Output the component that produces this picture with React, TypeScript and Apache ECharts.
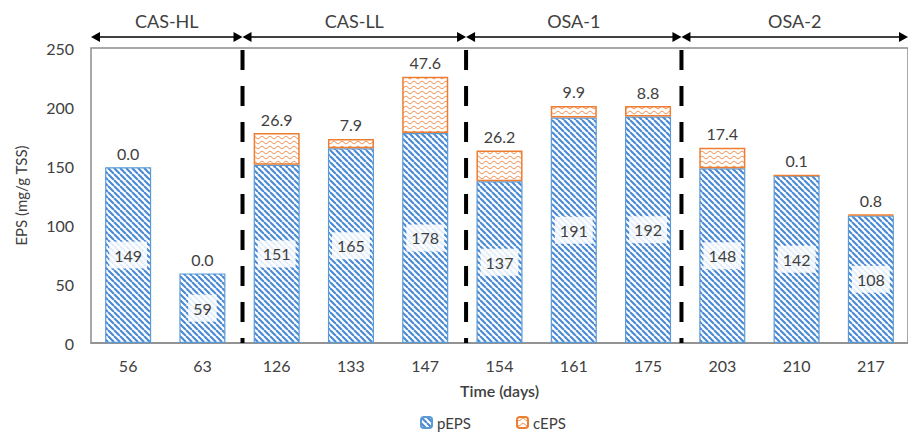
import React, { useEffect, useRef } from "react";
import * as echarts from "echarts";

const categories = ["56", "63", "126", "133", "147", "154", "161", "175", "203", "210", "217"];
const pEPS = [149, 59, 151, 165, 178, 137, 191, 192, 148, 142, 108];
const cEPS = [0.0, 0.0, 26.9, 7.9, 47.6, 26.2, 9.9, 8.8, 17.4, 0.1, 0.8];
const phaseNames = ["CAS-HL", "CAS-LL", "OSA-1", "OSA-2"];
// phase boundaries on the category index scale (0 = left edge, 11 = right edge)
const phaseBounds = [0, 2.04, 5.05, 7.95, 11];

const FONT = "Lato, 'Noto Sans', sans-serif";

function stripePattern() {
  const s = 6;
  const c = document.createElement("canvas");
  c.width = s;
  c.height = s;
  const g = c.getContext("2d")!;
  g.fillStyle = "#ffffff";
  g.fillRect(0, 0, s, s);
  g.strokeStyle = "#4a8ad4";
  g.lineWidth = 2.1;
  g.beginPath();
  for (const o of [-s, 0, s]) {
    g.moveTo(o, 0);
    g.lineTo(o + s, s);
  }
  g.stroke();
  return { image: c.toDataURL(), repeat: "repeat", imageWidth: s, imageHeight: s };
}

function wavePattern() {
  const w = 8;
  const h = 5;
  const c = document.createElement("canvas");
  c.width = w;
  c.height = h;
  const g = c.getContext("2d")!;
  g.fillStyle = "#ffffff";
  g.fillRect(0, 0, w, h);
  g.strokeStyle = "#ed7d31";
  g.lineWidth = 1;
  g.beginPath();
  for (let x = 0; x <= w; x += 0.5) {
    const y = 2.5 + 1.2 * Math.sin((x / w) * Math.PI * 2);
    if (x === 0) g.moveTo(x, y);
    else g.lineTo(x, y);
  }
  g.stroke();
  return { image: c.toDataURL(), repeat: "repeat", imageWidth: w, imageHeight: h };
}

export default function App() {
  const ref = useRef<HTMLDivElement>(null);

  useEffect(() => {
    document.body.style.margin = "0";
    const chart = echarts.init(ref.current!, null, { renderer: "svg" });
    const blue = stripePattern();
    const orange = wavePattern();

    chart.setOption({
      animation: false,
      backgroundColor: "#ffffff",
      textStyle: { fontFamily: FONT },
      grid: {
        left: 91,
        top: 48,
        width: 825,
        height: 295,
        show: true,
        borderColor: "#8c8c8c",
        borderWidth: 1.5,
        backgroundColor: "transparent",
      },
      legend: {
        left: 415,
        top: 410,
        itemWidth: 11,
        itemHeight: 11,
        itemGap: 45,
        textStyle: { fontFamily: FONT, fontSize: 15, color: "#404040" },
        data: ["pEPS", "cEPS"],
      },
      xAxis: [
        {
          type: "category",
          data: categories,
          name: "Time (days)",
          nameLocation: "middle",
          nameGap: 39,
          nameTextStyle: { fontFamily: FONT, fontSize: 16, color: "#404040", fontWeight: 600 },
          axisTick: { show: false },
          axisLine: { lineStyle: { color: "#8c8c8c", width: 1.5 } },
          axisLabel: { fontFamily: FONT, fontSize: 16, color: "#404040", margin: 14 },
        },
        { type: "value", min: 0, max: 11, show: false },
      ],
      yAxis: {
        type: "value",
        min: 0,
        max: 250,
        interval: 50,
        name: "EPS (mg/g TSS)",
        nameLocation: "middle",
        nameGap: 63,
        nameTextStyle: { fontFamily: FONT, fontSize: 15, color: "#404040" },
        axisLine: { show: false },
        axisTick: { show: false },
        splitLine: { show: false },
        axisLabel: { fontFamily: FONT, fontSize: 16, color: "#404040", margin: 17 },
      },
      series: [
        {
          name: "pEPS",
          type: "bar",
          stack: "eps",
          barWidth: "62%",
          data: pEPS,
          itemStyle: { color: blue, borderColor: "#5b9bd5", borderWidth: 1.2 },
          label: {
            show: true,
            position: "inside",
            fontFamily: FONT,
            fontSize: 16,
            color: "#404040",
            backgroundColor: "rgba(255,255,255,0.85)",
            padding: [6, 5, 5, 5],
          },
        },
        {
          name: "cEPS",
          type: "bar",
          stack: "eps",
          barWidth: "62%",
          data: cEPS.map((v) => ({
            value: v,
            itemStyle: v === 0 ? { borderWidth: 0 } : undefined,
          })),
          itemStyle: { color: orange, borderColor: "#ed7d31", borderWidth: 1.5 },
          label: {
            show: true,
            position: "top",
            distance: 6,
            fontFamily: FONT,
            fontSize: 16,
            color: "#404040",
            formatter: (p: any) => Number(p.value).toFixed(1),
          },
        },
      ],
    });

    const yTop = chart.convertToPixel({ yAxisIndex: 0 }, 250) as number;
    const yBottom = chart.convertToPixel({ yAxisIndex: 0 }, 0) as number;
    const px = (v: number) => chart.convertToPixel({ xAxisIndex: 1 }, v) as number;
    const arrowY = yTop - 11;
    const labelY = yTop - 27;
    const L = 9;
    const H = 5;
    const elements: any[] = [];

    for (let i = 0; i < phaseNames.length; i++) {
      const x0 = px(phaseBounds[i]);
      const x1 = px(phaseBounds[i + 1]);
      elements.push({
        type: "line",
        shape: { x1: x0 + 2, y1: arrowY, x2: x1 - 2, y2: arrowY },
        style: { stroke: "#000", lineWidth: 1.3 },
        z: 10,
      });
      elements.push({
        type: "polygon",
        shape: { points: [[x0, arrowY], [x0 + L, arrowY - H], [x0 + L, arrowY + H]] },
        style: { fill: "#000" },
        z: 10,
      });
      elements.push({
        type: "polygon",
        shape: { points: [[x1, arrowY], [x1 - L, arrowY - H], [x1 - L, arrowY + H]] },
        style: { fill: "#000" },
        z: 10,
      });
      elements.push({
        type: "text",
        x: (x0 + x1) / 2,
        y: labelY,
        style: {
          text: phaseNames[i],
          fontFamily: FONT,
          fontSize: 18,
          fill: "#404040",
          align: "center",
          verticalAlign: "middle",
        },
        z: 10,
      });
    }
    for (let i = 1; i < phaseBounds.length - 1; i++) {
      const x = px(phaseBounds[i]);
      elements.push({
        type: "line",
        shape: { x1: x, y1: yTop + 2, x2: x, y2: yBottom },
        style: { stroke: "#000", lineWidth: 4, lineDash: [20, 16] },
        z: 10,
      });
    }
    chart.setOption({ graphic: elements });

    return () => chart.dispose();
  }, []);

  return <div ref={ref} style={{ width: 908, height: 437 }} />;
}
